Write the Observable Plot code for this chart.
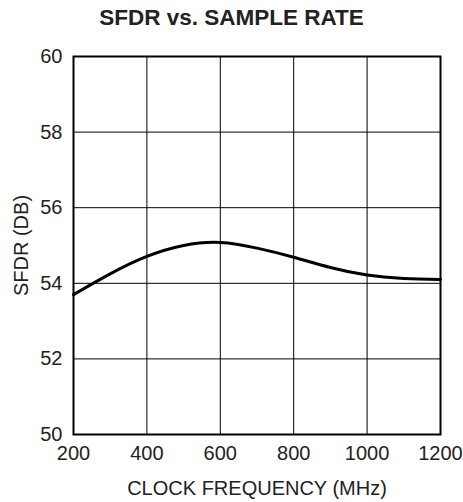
<!DOCTYPE html>
<html><head><meta charset="utf-8">
<script src="https://cdn.jsdelivr.net/npm/d3@7"></script>
<script src="https://cdn.jsdelivr.net/npm/@observablehq/plot@0.6"></script>
<style>
body{margin:0;background:#fff;font-family:"Liberation Sans",Arial,Helvetica,sans-serif;}
#title{height:36px;box-sizing:border-box;padding-top:6px;text-align:center;font-weight:bold;font-size:22.5px;line-height:24px;color:#222;}
#chart svg{display:block;}
</style>
</head><body>
<div id="title">SFDR vs. SAMPLE RATE</div>
<div id="chart"></div>
<script>
const freq = [200, 300, 400, 500, 600, 700, 800, 900, 1000, 1100, 1200];
const sfdr = [53.70, 54.25, 54.71, 55.00, 55.08, 54.93, 54.69, 54.42, 54.22, 54.13, 54.10];
const xTicks = [200, 400, 600, 800, 1000, 1200];
const yTicks = [50, 52, 54, 56, 58, 60];
const xLabel = "CLOCK FREQUENCY (MHz)";
const yLabel = "SFDR (DB)";

const data = freq.map((f, i) => ({f, v: sfdr[i]}));

const chart = Plot.plot({
  width: 463,
  height: 466,
  marginLeft: 73,
  marginRight: 23,
  marginTop: 20,
  marginBottom: 68,
  style: {fontFamily: '"Liberation Sans", Arial, sans-serif', fontSize: "20px", color: "#222", background: "#fff"},
  x: {domain: [200, 1200]},
  y: {domain: [50, 60]},
  marks: [
    Plot.gridX(xTicks, {stroke: "#000", strokeOpacity: 1, strokeWidth: 1}),
    Plot.gridY(yTicks, {stroke: "#000", strokeOpacity: 1, strokeWidth: 1}),
    Plot.frame({stroke: "#000", strokeWidth: 2}),
    Plot.axisX(xTicks, {tickSize: 0, tickPadding: 11, fontSize: 20, tickFormat: "d", label: xLabel, labelAnchor: "center", labelArrow: "none", labelOffset: 60}),
    Plot.axisY(yTicks, {tickSize: 0, tickPadding: 11, fontSize: 20, tickFormat: "d", label: yLabel, labelAnchor: "center", labelArrow: "none", labelOffset: 60}),
    Plot.line(data, {x: "f", y: "v", curve: "natural", stroke: "#000", strokeWidth: 3})
  ]
});
document.getElementById("chart").appendChild(chart);
</script>
</body></html>
